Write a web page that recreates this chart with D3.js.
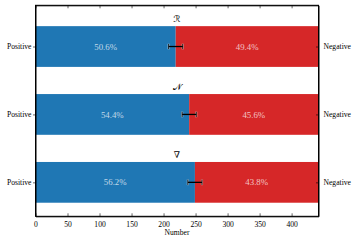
<!DOCTYPE html>
<html>
<head>
<meta charset="utf-8">
<script src="https://cdn.jsdelivr.net/npm/d3@7"></script>
<style>
  body { margin: 0; background: #fff; }
  svg { display: block; font-family: 'Liberation Serif', 'DejaVu Serif', serif; }
</style>
</head>
<body>
<svg width="357" height="242"></svg>
<script>
const width = 357, height = 242

// data
const methods   = ['ℛ', '𝒩', '∇'];
const positive  = [219, 240, 249];
const negative  = [223, 202, 193];
const errors    = [11, 11, 11];
const posLabels = ['50.6%', '54.4%', '56.2%'];
const negLabels = ['49.4%', '45.6%', '43.8%'];
const xTicks    = [0, 50, 100, 150, 200, 250, 300, 350, 400];

const rows = methods.map((m, i) => ({
    i, m, pos: positive[i], neg: negative[i], err: errors[i],
    posLabel: posLabels[i], negLabel: negLabels[i]
}));

const svg = d3.select('svg');

const x = d3.scaleLinear().domain([0, 442]).range([35.5, 318.5]);
const y = d3.scaleLinear().domain([-0.607, 2.5]).range([5.3, 216.3]);
const barH = y(0.3) - y(-0.3);

// bars
const g = svg.append('g');
g.selectAll('rect.pos')
    .data(rows).enter().append('rect')
    .attr('x', x(0))
    .attr('y', d => y(d.i) - barH / 2)
    .attr('width', d => x(d.pos) - x(0))
    .attr('height', barH)
    .attr('fill', '#1f77b4');

g.selectAll('rect.neg')
    .data(rows).enter().append('rect')
    .attr('x', d => x(d.pos))
    .attr('y', d => y(d.i) - barH / 2)
    .attr('width', d => x(d.pos + d.neg) - x(d.pos))
    .attr('height', barH)
    .attr('fill', '#d62728');

// percentage labels
g.selectAll('text.pl')
    .data(rows).enter().append('text')
    .attr('x', d => (x(0) + x(d.pos)) / 2)
    .attr('y', d => y(d.i))
    .attr('dy', '0.35em')
    .attr('text-anchor', 'middle')
    .style('font-size', '8.8px')
    .attr('fill', 'rgba(255,255,255,0.72)')
    .text(d => d.posLabel);

g.selectAll('text.nl')
    .data(rows).enter().append('text')
    .attr('x', d => (x(d.pos) + x(d.pos + d.neg)) / 2)
    .attr('y', d => y(d.i))
    .attr('dy', '0.35em')
    .attr('text-anchor', 'middle')
    .style('font-size', '8.8px')
    .attr('fill', 'rgba(255,255,255,0.72)')
    .text(d => d.negLabel);

// error bars, with a faint light edge round the caps
const eb = g.selectAll('g.eb').data(rows).enter().append('g');
[-1, 1].forEach(s => {
    eb.append('line')
        .attr('x1', d => x(d.pos + s * d.err)).attr('x2', d => x(d.pos + s * d.err))
        .attr('y1', d => y(d.i) - 2.8).attr('y2', d => y(d.i) + 2.8)
        .attr('stroke', 'rgba(255,255,255,0.55)').attr('stroke-width', 2.2);
    eb.append('line')
        .attr('x1', d => x(d.pos + s * d.err)).attr('x2', d => x(d.pos + s * d.err))
        .attr('y1', d => y(d.i) - 2.6).attr('y2', d => y(d.i) + 2.6)
        .attr('stroke', '#000').attr('stroke-width', 0.9);
});
eb.append('line')
    .attr('x1', d => x(d.pos - d.err)).attr('x2', d => x(d.pos + d.err))
    .attr('y1', d => y(d.i)).attr('y2', d => y(d.i))
    .attr('stroke', '#000').attr('stroke-width', 1.3);

// method titles above each bar
g.selectAll('text.title')
    .data(rows).enter().append('text')
    .attr('x', (x.range()[0] + x.range()[1]) / 2)
    .attr('y', d => y(d.i - 0.41))
    .attr('dy', '0.35em')
    .attr('text-anchor', 'middle')
    .style('font-family', "'DejaVu Serif', 'DejaVu Sans', serif")
    .style('font-size', '9px')
    .text(d => d.m);

// axes (ticks pointing in on x, as in the reference)
const xAxisB = d3.axisBottom(x).tickValues(xTicks).tickSizeInner(-3).tickSizeOuter(0).tickPadding(5);
const xAxisT = d3.axisTop(x).tickValues(xTicks).tickSizeInner(-3).tickSizeOuter(0).tickFormat('');

svg.append('g').attr('transform', `translate(0,${y.range()[1]})`).call(xAxisB);
svg.append('g').attr('transform', `translate(0,${y.range()[0]})`).call(xAxisT);

const yAxisL = d3.axisLeft(y).tickValues([0, 1, 2]).tickFormat(() => 'Positive').tickSizeInner(2.5).tickSizeOuter(0).tickPadding(1.5);
const yAxisR = d3.axisRight(y).tickValues([0, 1, 2]).tickFormat(() => 'Negative').tickSizeInner(-2.5).tickSizeOuter(0).tickPadding(5);

svg.append('g').attr('transform', `translate(${x.range()[0]},0)`).call(yAxisL);
svg.append('g').attr('transform', `translate(${x.range()[1]},0)`).call(yAxisR);

svg.selectAll('.tick text')
    .style('font-family', "'Liberation Serif', serif")
    .style('font-size', '7.6px')
    .attr('fill', '#000');
svg.selectAll('.domain').attr('stroke', '#000').attr('stroke-width', 1);
svg.selectAll('.tick line').attr('stroke', '#000').attr('stroke-width', 0.6);

// frame (spines)
svg.append('rect')
    .attr('x', x.range()[0]).attr('y', y.range()[0])
    .attr('width', x.range()[1] - x.range()[0])
    .attr('height', y.range()[1] - y.range()[0])
    .attr('fill', 'none').attr('stroke', '#000').attr('stroke-width', 1);

svg.append('text')
    .attr('x', (x.range()[0] + x.range()[1]) / 2)
    .attr('y', 235)
    .attr('text-anchor', 'middle')
    .style('font-size', '7.6px')
    .text('Number');
</script>
</body>
</html>
